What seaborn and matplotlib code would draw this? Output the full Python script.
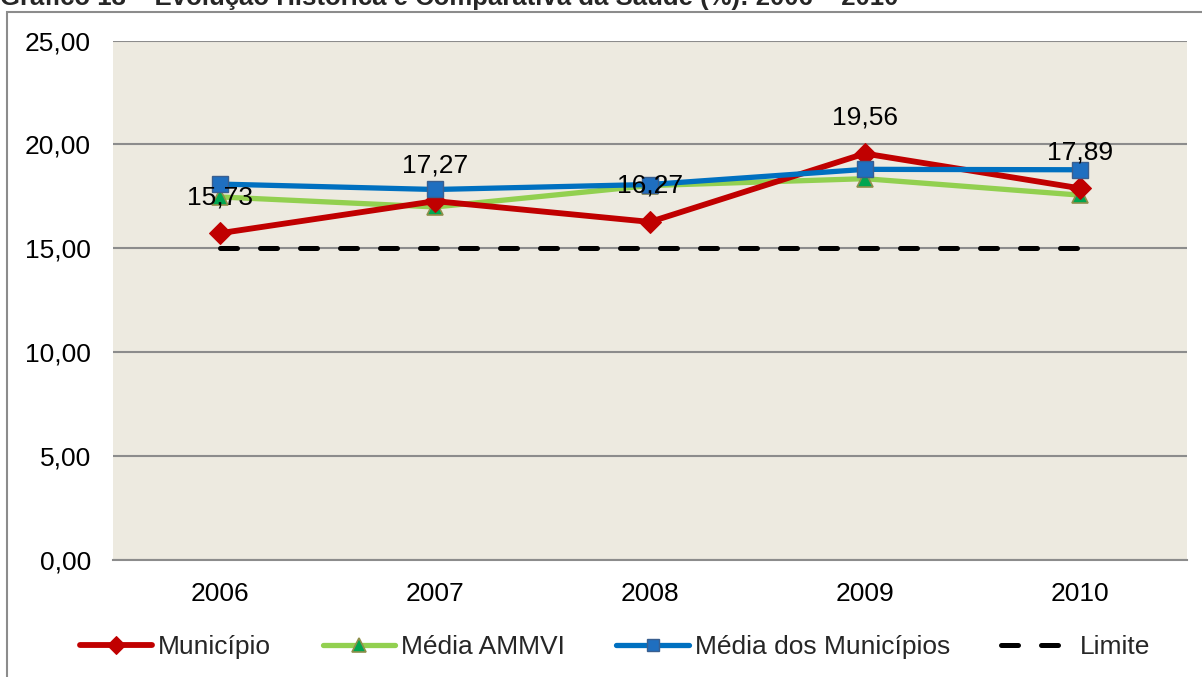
import matplotlib
matplotlib.use("Agg")
import matplotlib.pyplot as plt
import seaborn as sns
import pandas as pd
from matplotlib.patches import Rectangle

anos = ["2006", "2007", "2008", "2009", "2010"]
municipio = [15.73, 17.27, 16.27, 19.56, 17.89]
media_ammvi = [17.47, 16.99, 18.02, 18.35, 17.56]
media_municipios = [18.09, 17.83, 18.07, 18.80, 18.78]
limite = [15.00, 15.00, 15.00, 15.00, 15.00]
rotulos = ["15,73", "17,27", "16,27", "19,56", "17,89"]
y_ticks = [0, 5, 10, 15, 20, 25]
y_labels = ["0,00", "5,00", "10,00", "15,00", "20,00", "25,00"]
titulo = "Gráfico 13 – Evolução Histórica e Comparativa da Saúde (%): 2006 – 2010"

sns.set_theme(style="white")
plt.rcParams['font.family'] = ['Liberation Sans', 'DejaVu Sans']

FS = 19
fig = plt.figure(figsize=(12.02, 6.77), dpi=100)
ax = fig.add_axes([113/1202, 1-560/677, (1187-113)/1202, (560-40.5)/677])
ax.set_facecolor("#EDEAE0")

df = pd.DataFrame({"ano": anos, "Município": municipio, "Média AMMVI": media_ammvi,
                   "Média dos Municípios": media_municipios, "Limite": limite})

sns.lineplot(data=df, x="ano", y="Limite", ax=ax, color="black", lw=3.6,
             label="Limite", sort=False, zorder=2)
ax.lines[-1].set_dashes([3.4, 4.6])
ax.lines[-1].set_dash_capstyle("round")
sns.lineplot(data=df, x="ano", y="Média AMMVI", ax=ax, color="#92D050", lw=3.8,
             marker="^", markersize=12, markerfacecolor="#00A651", markeredgecolor="#8F8F4A",
             markeredgewidth=1.2, label="Média AMMVI", sort=False, zorder=3)
sns.lineplot(data=df, x="ano", y="Município", ax=ax, color="#C00000", lw=4.2,
             marker="D", markersize=11, markerfacecolor="#C00000", markeredgecolor="#C00000",
             label="Município", sort=False, zorder=4)
sns.lineplot(data=df, x="ano", y="Média dos Municípios", ax=ax, color="#0070C0", lw=3.8,
             marker="s", markersize=11, markerfacecolor="#1F6FC0", markeredgecolor="#3A5F8F",
             markeredgewidth=1.0, label="Média dos Municípios", sort=False, zorder=5)

for i, (v, t) in enumerate(zip(municipio, rotulos)):
    ax.annotate(t, xy=(i, v), xytext=(0, 26), textcoords="offset points",
                ha="center", va="center", fontsize=FS, color="black", zorder=6)

ax.set_xlim(-0.5, 4.5)
ax.set_ylim(0, 25)
ax.set_yticks(y_ticks)
ax.set_yticklabels(y_labels)
ax.set_xticks(range(len(anos)))
ax.set_xticklabels(anos)
ax.tick_params(axis="both", length=0, labelsize=FS, colors="black")
ax.tick_params(axis="y", pad=16)
ax.tick_params(axis="x", pad=16)
ax.set_xlabel("")
ax.set_ylabel("")
ax.grid(axis="y", color="#8C8C8C", lw=1.5)
ax.grid(axis="x", visible=False)
ax.set_axisbelow(True)
for s in ["left", "right", "top"]:
    ax.spines[s].set_visible(False)
ax.spines["bottom"].set_color("#8C8C8C")
ax.spines["bottom"].set_linewidth(1.5)

handles, labels = ax.get_legend_handles_labels()
order = ["Município", "Média AMMVI", "Média dos Municípios", "Limite"]
hmap = dict(zip(labels, handles))
ax.legend([hmap[k] for k in order], order, loc="center", bbox_to_anchor=(615/1202, 1-647/677),
          bbox_transform=fig.transFigure, ncol=4, frameon=False, fontsize=FS,
          handlelength=2.75, handletextpad=0.22, columnspacing=1.95, markerscale=0.85)

fig.patches.append(Rectangle((7/1202, -0.1), 1.2, 1.1 - 12/677, transform=fig.transFigure,
                             fill=False, edgecolor="#8C8C8C", lw=1.5))
fig.text(0, 1-5/677, titulo, ha="left", va="baseline", fontsize=18.5, fontweight="bold")

fig.savefig("out.png", dpi=100)
